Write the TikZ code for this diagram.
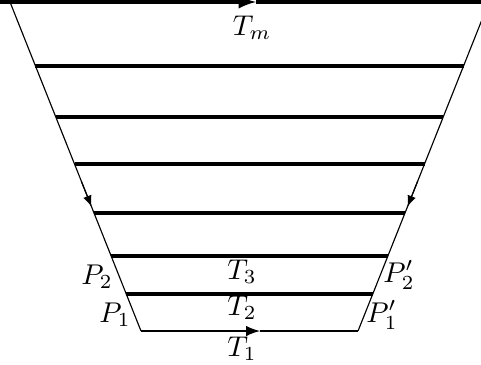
\documentclass[tikz,border=0pt]{standalone}
\usetikzlibrary{calc}

\tikzset{
  level/.style={line width=1.1pt},
  bottom/.style={line width=0.7pt},
  wall/.style={thin},
}

\begin{document}
\begin{tikzpicture}[x=0.35pt,y=-0.35pt]
\useasboundingbox (0,0) rectangle (481,364);
\clip (0,0) rectangle (481,364);

% Parois
\coordinate (LT) at (10,2);
\coordinate (LB) at (141,331);
\coordinate (RT) at (489,2);
\coordinate (RB) at (358,331);
\draw[wall] (LT) -- (LB);
\draw[wall] (RT) -- (RB);

% Niveaux
\foreach \t [count=\i] in {0.1945,0.3495,0.4924,0.6413,0.7720,0.8875}
{
  \coordinate (L\i) at ($(LT)!\t!(LB)$);
  \coordinate (R\i) at ($(RT)!\t!(RB)$);
  \draw[level] (L\i) -- (R\i);
}

% Haut
\coordinate (TL) at (-5,2);
\coordinate (TA) at (256,2);
\coordinate (TR) at (495,2);
\draw[level,-latex] (TL) -- (TA);
\draw[level] (TA) -- (TR);

% Bas
\coordinate (BA) at (260,331);
\draw[bottom,-latex] (LB) -- (BA);
\draw[bottom] (BA) -- (RB);

% Flèches des parois
\coordinate (LA1) at ($(LT)!0.545!(LB)$);
\coordinate (LA2) at ($(LT)!0.623!(LB)$);
\coordinate (RA1) at ($(RT)!0.545!(RB)$);
\coordinate (RA2) at ($(RT)!0.623!(RB)$);
\draw[wall,-latex] (LA1) -- (LA2);
\draw[wall,-latex] (RA1) -- (RA2);

% Labels
\node (Tm) at (252,28) {$T_m$};
\node (T3) at (242,272) {$T_3$};
\node (T2) at (242,308) {$T_2$};
\node (T1) at (242,349) {$T_1$};
\node (P2) at (97,277) {$P_2$};
\node (P1) at (115,315) {$P_1$};
\node (P2p) at (399,275) {$P_2'$};
\node (P1p) at (382,315) {$P_1'$};

\end{tikzpicture}
\end{document}
